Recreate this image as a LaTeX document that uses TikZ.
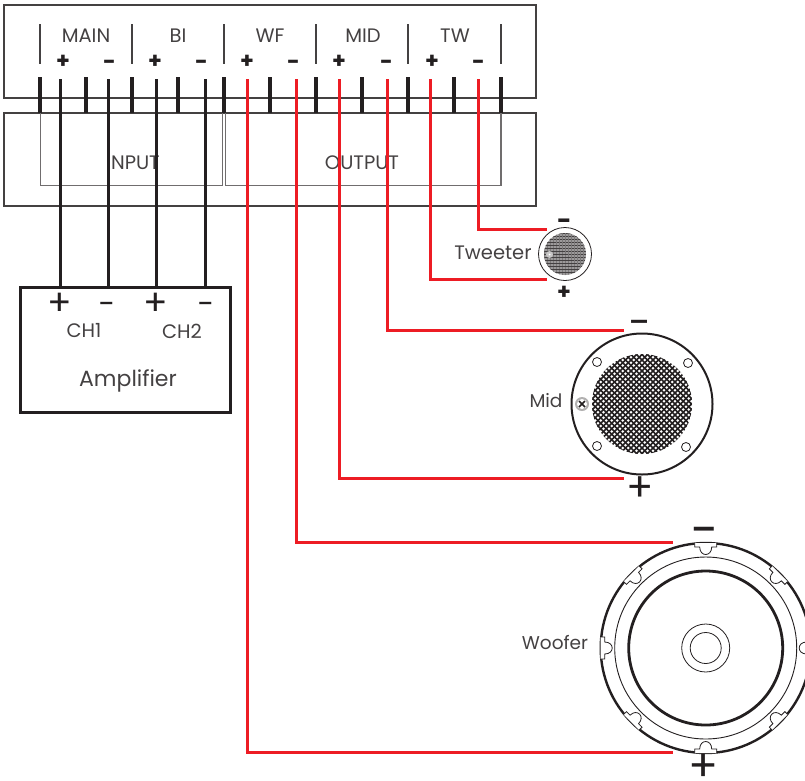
\documentclass[tikz,border=0pt]{standalone}
\usepackage{fontspec}
\setmainfont{Poppins}
\definecolor{ink}{HTML}{231F20}
\definecolor{wirered}{HTML}{ED1C24}
\tikzset{
  panel/.style={draw=ink!85,line width=1.4pt},
  inner panel/.style={draw=ink!65,line width=1.1pt},
  tick/.style={ink,line width=4pt},
  divider/.style={ink!85,line width=1.2pt},
  blackwire/.style={ink,line width=3pt},
  redwire/.style={wirered,line width=3pt},
  lbl/.style={inner sep=0pt,text=ink!85,font=\fontsize{#1}{#1}\selectfont},
  lbl/.default=19.5,
  pol/.style={inner sep=0pt,text=ink,font=\fontsize{#1}{#1}\selectfont},
  bold pol/.style={inner sep=0pt,text=ink,font=\bfseries\fontsize{#1}{#1}\selectfont},
  low/.style={yshift=-0.14*#1 pt},
}
\begin{document}
\begin{tikzpicture}[x=1pt,y=-1pt]
\useasboundingbox (0,0) rectangle (805,780);
\clip (0,0) rectangle (805,780);
% crossover
\draw[panel] (4,5) rectangle (536,98);
\draw[panel] (4,113) rectangle (536,206);
\draw[inner panel] (40.7,113) -- (40.7,185.5) -- (222.7,185.5) -- (222.7,113);
\draw[inner panel] (225.7,113) -- (225.7,185.5) -- (501,185.5) -- (501,113);
\foreach \x in {40,132,224,316,408,501}
  \draw[divider] (\x,24) -- (\x,64);
\foreach \x in {40,86,132,178,224,270,316,362,408,454,501}
  \draw[tick] (\x,77) -- (\x,113);
\node[lbl] (main) at (86,36) {MAIN};
\node[lbl] (bi) at (178,36) {BI};
\node[lbl] (wf) at (270,36) {WF};
\node[lbl] (mid) at (363,36) {MID};
\node[lbl] (tw) at (455,36) {TW};
\node[lbl] (input) at (133,163) {INPUT};
\node[lbl] (output) at (362,163) {OUTPUT};
\foreach \x/\n in {63/a,155/b,247/c,339/d,432/e}
  \node[bold pol=22] (plus\n) at (\x,62) {+};
\foreach \x/\n in {109/a,201/b,293/c,386/d,478/e}
  \node[bold pol=22,low=22] (minus\n) at (\x,62) {−};
% amplifier
\node[draw=ink,line width=3pt,minimum width=210.5pt,minimum height=125pt,inner sep=0pt] (amp) at (125.5,349.5) {};
\node[pol=36] (amppa) at (60,304) {+};
\node[pol=30,low=30] (ampma) at (107,304) {−};
\node[pol=36] (amppb) at (156,304) {+};
\node[pol=30,low=30] (ampmb) at (206,304) {−};
\node[lbl=19.5] (chone) at (84,331) {CH1};
\node[lbl=19.5] (chtwo) at (182,331) {CH2};
\node[lbl=22] (amplabel) at (128,381) {Amplifier};
% terminals
\coordinate (mainp) at (60,79);
\coordinate (mainm) at (108.7,79);
\coordinate (bip) at (156,79);
\coordinate (bim) at (205,79);
\coordinate (wfp) at (247.3,79);
\coordinate (wfm) at (296,79);
\coordinate (midp) at (339,79);
\coordinate (midm) at (387,79);
\coordinate (twp) at (430,79);
\coordinate (twm) at (478.5,79);
\coordinate (tweeterm) at (547,229.5);
\coordinate (tweeterp) at (547,279);
\coordinate (midrangem) at (624,330.5);
\coordinate (midrangep) at (624,478);
\coordinate (wooferm) at (673,542);
\coordinate (wooferp) at (673,752);
\foreach \n in {mainp,mainm,bip,bim}
  \draw[blackwire] (\n) -- (\n |- amp.north);
\draw[redwire] (twm) |- (tweeterm);
\draw[redwire] (twp) |- (tweeterp);
\draw[redwire] (midm) |- (midrangem);
\draw[redwire] (midp) |- (midrangep);
\draw[redwire] (wfm) |- (wooferm);
\draw[redwire] (wfp) |- (wooferp);
% tweeter
\draw[ink,line width=0.8pt] (565,254) circle (26.5);
\fill[ink!45] (565,254) circle (21);
\begin{scope}
\clip (565,254) circle (21);
\foreach \i in {-7,...,7} {
  \draw[ink!60,line width=0.8pt] (565+\i*3,230) -- (565+\i*3,278);
  \draw[ink!85,line width=0.9pt] (541,254+\i*3) -- (589,254+\i*3);
}
\end{scope}
\fill[ink!25] (549.5,254.5) circle (3.5);
\fill[white] (549.5,254.5) circle (1);
\node[bold pol=25,low=25] (twmlabel) at (564,221) {−};
\node[bold pol=22] (twplabel) at (564,293) {+};
\node[lbl] (tweeter) at (493,253) {Tweeter};
% midrange
\draw[ink,line width=2pt] (642,404) circle (70.5);
\begin{scope}
\clip (642,404) circle (50);
\foreach \i in {-22,...,22} {
  \draw[ink,line width=1.7pt] (642+\i*5.5-60,344) -- (642+\i*5.5+60,464);
  \draw[ink,line width=1.7pt] (642+\i*5.5+60,344) -- (642+\i*5.5-60,464);
}
\end{scope}
\foreach \x/\y in {597/362,688/363,597/446,686/447}
  \draw[ink,line width=0.8pt] (\x,\y) circle (4.5);
\fill[ink!35] (582,404) circle (7);
\fill[white] (582,404) circle (5);
\draw[ink,line width=1.5pt] (579,401) -- (585,407) (585,401) -- (579,407);
\node[pol=40,low=40] (midmlabel) at (640,323) {−};
\node[pol=40] (midplabel) at (640,489) {+};
\node[lbl=18.5] (midlabel) at (546,401) {Mid};
% woofer
\draw[ink,line width=2.4pt] (705.7,648) circle (105);
\draw[ink,line width=0.9pt] (705.7,648) circle (91);
\draw[ink,line width=2.8pt] (705.7,648) circle (77);
\draw[ink,line width=0.8pt] (705.7,648) circle (24);
\draw[ink,line width=0.8pt] (705.7,648) circle (15.5);
\foreach \a in {0,45,...,315} {
  \begin{scope}[shift={(705.7,648)},rotate=\a]
  \draw[ink,fill=white,line width=0.8pt] (-11,-105) -- (-11,-101) -- (-6,-101)
    .. controls (-6,-91) and (6,-91) .. (6,-101) -- (11,-101) -- (11,-105);
  \end{scope}
}
\node[pol=50,low=50] (wfmlabel) at (704,530) {−};
\node[pol=44] (wfplabel) at (704,767.5) {+};
\node[lbl=18.5] (woofer) at (555,643) {Woofer};
\end{tikzpicture}
\end{document}
